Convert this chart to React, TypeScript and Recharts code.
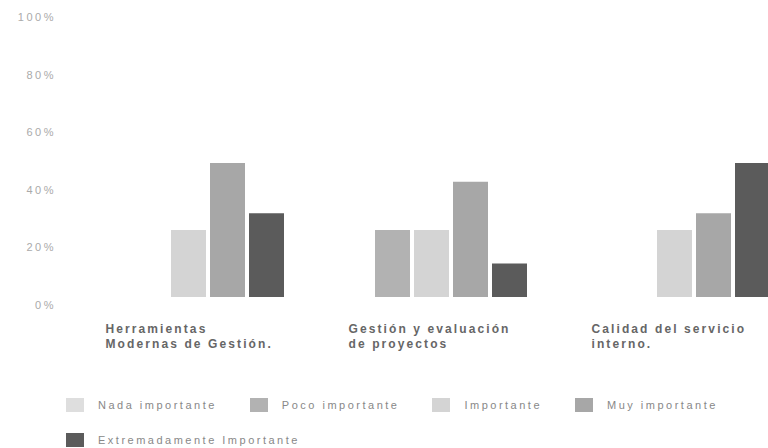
import { BarChart, Bar, XAxis, YAxis } from "recharts";

const categories = [
  "Herramientas\nModernas de Gestión.",
  "Gestión y evaluación\nde proyectos",
  "Calidad del servicio\ninterno.",
];

const nadaImportante = [0, 0, 0];
const pocoImportante = [0, 25, 0];
const importante = [25, 25, 25];
const muyImportante = [50, 43, 31.25];
const extremadamente = [31.25, 12.5, 50];

const yTicks = [0, 20, 40, 60, 80, 100];

const series = [
  { key: "nada", name: "Nada importante", values: nadaImportante, color: "#dedede" },
  { key: "poco", name: "Poco importante", values: pocoImportante, color: "#b2b2b2" },
  { key: "imp", name: "Importante", values: importante, color: "#d4d4d4" },
  { key: "muy", name: "Muy importante", values: muyImportante, color: "#a7a7a7" },
  { key: "ext", name: "Extremadamente Importante", values: extremadamente, color: "#5b5b5b" },
];

const data = categories.map((name, i) => {
  const row: any = { name };
  series.forEach((s) => (row[s.key] = s.values[i]));
  return row;
});

const CategoryTick = ({ x, y, payload }: any) => {
  const lines = String(payload.value).split("\n");
  return (
    <text
      x={x - 83}
      y={y + 28}
      textAnchor="start"
      fill="#666"
      fontSize={12}
      fontWeight="bold"
      fontFamily="Liberation Sans, Arial, sans-serif"
      letterSpacing={2.1}
    >
      {lines.map((l, i) => (
        <tspan key={i} x={x - 83} dy={i === 0 ? 0 : 15}>
          {l}
        </tspan>
      ))}
    </text>
  );
};

const Legendish = () => (
  <div
    style={{
      position: "absolute",
      left: 66,
      top: 398,
      width: 680,
      display: "flex",
      flexWrap: "wrap",
      columnGap: 33,
      rowGap: 21,
      fontFamily: "Liberation Sans, Arial, sans-serif",
      fontSize: 11,
      letterSpacing: 2.5,
      color: "#888",
    }}
  >
    {series.map((s) => (
      <div key={s.key} style={{ display: "flex", alignItems: "center", height: 14 }}>
        <span style={{ width: 18, height: 14, background: s.color, marginRight: 14, display: "inline-block" }} />
        <span style={{ whiteSpace: "nowrap" }}>{s.name}</span>
      </div>
    ))}
  </div>
);

export default function App() {
  return (
    <div
      style={{
        position: "absolute",
        left: 0,
        top: 0,
        width: 768,
        height: 448,
        overflow: "hidden",
        background: "#fff",
      }}
    >
      <BarChart
        width={796}
        height={360}
        data={data}
        margin={{ top: 17, right: 0, bottom: 0, left: 0 }}
        barCategoryGap={26}
        barGap={4}
      >
        <XAxis
          dataKey="name"
          height={55}
          axisLine={false}
          tickLine={false}
          tickSize={0}
          tickMargin={0}
          interval={0}
          tick={<CategoryTick />}
        />
        <YAxis
          yAxisId="labels"
          type="number"
          width={67}
          domain={[0, 100]}
          allowDataOverflow
          ticks={yTicks}
          tickFormatter={(v) => `${v}%`}
          axisLine={false}
          tickLine={false}
          tickSize={0}
          tickMargin={11}
          tick={{ fill: "#aaa", fontSize: 11, letterSpacing: 2.5, fontFamily: "Liberation Sans, Arial, sans-serif" }}
        />
        <YAxis yAxisId="bars" orientation="right" hide domain={[-2.99, 104.48]} allowDataOverflow />
        {series.map((s) => (
          <Bar key={s.key} yAxisId="bars" dataKey={s.key} name={s.name} fill={s.color} isAnimationActive={false} />
        ))}
      </BarChart>
      <Legendish />
    </div>
  );
}
